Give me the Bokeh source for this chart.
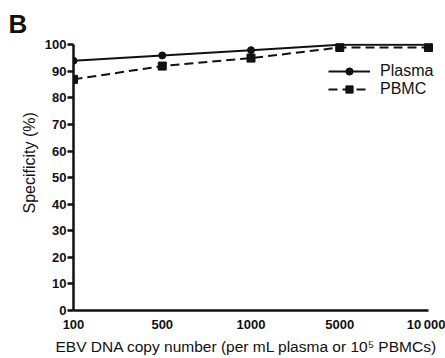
from bokeh.plotting import figure
from bokeh.embed import file_html
from bokeh.resources import INLINE
from bokeh.models import FixedTicker, Legend, LegendItem, Title

categories = ["100", "500", "1000", "5000", "10\u2009000"]
plasma = [94, 96, 98, 100, 100]
pbmc = [87, 92, 95, 99, 99]
y_ticks = [0, 10, 20, 30, 40, 50, 60, 70, 80, 90, 100]

xs = list(range(len(categories)))
FONT = "Liberation Sans"
COL = "#111111"

p = figure(width=445, height=358, output_backend="svg", toolbar_location=None,
           x_range=(0, 4.135), y_range=(0, 100.5),
           min_border_left=73, min_border_right=5, min_border_top=43, min_border_bottom=48)
p.outline_line_color = None
p.xgrid.visible = False
p.ygrid.visible = False

p.title.text = "B"
p.title.text_font = FONT
p.title.text_font_size = "26px"
p.title.text_font_style = "bold"
p.title.text_color = COL
p.title.offset = -65
p.title.standoff = 9

r1 = p.line(xs, plasma, line_color=COL, line_width=2)
r2 = p.scatter(xs, plasma, marker="circle", size=7, color=COL)
r3 = p.line(xs, pbmc, line_color=COL, line_width=2, line_dash="9 5")
r4 = p.scatter(xs, pbmc, marker="square", size=8, color=COL)

legend = Legend(items=[LegendItem(label="Plasma", renderers=[r1, r2]),
                       LegendItem(label="PBMC", renderers=[r3, r4])])
legend.background_fill_alpha = 0
legend.border_line_color = None
legend.label_text_font = FONT
legend.label_text_font_size = "16px"
legend.label_text_color = COL
legend.glyph_width = 42
legend.glyph_height = 18
legend.label_height = 18
legend.spacing = 0
legend.label_standoff = 10
legend.margin = 0
legend.padding = 0
legend.location = (255, 212)
p.add_layout(legend)

p.xaxis.ticker = FixedTicker(ticks=xs)
p.xaxis.major_label_overrides = {i: c for i, c in zip(xs, categories)}
p.xaxis.major_tick_line_color = None
p.xaxis.minor_tick_line_color = None
p.xaxis.bounds = (0, 4)
p.xaxis.axis_line_width = 2.5
p.xaxis.axis_line_color = COL
p.xaxis.major_label_text_font = FONT
p.xaxis.major_label_text_font_style = "bold"
p.xaxis.major_label_text_font_size = "13px"
p.xaxis.major_label_text_color = COL
p.xaxis.major_label_standoff = 0

xlab = Title(text="EBV DNA copy number (per mL plasma or 10\u2075 PBMCs)",
             align="left", offset=-18, standoff=2,
             text_font=FONT, text_font_style="normal", text_font_size="15.5px",
             text_color=COL)
p.add_layout(xlab, "below")

p.yaxis.ticker = FixedTicker(ticks=y_ticks)
p.yaxis.bounds = (0, 100)
p.yaxis.minor_tick_line_color = None
p.yaxis.major_tick_out = 6
p.yaxis.major_tick_in = 0
p.yaxis.major_tick_line_width = 2.5
p.yaxis.major_tick_line_color = COL
p.yaxis.axis_line_width = 2.5
p.yaxis.axis_line_color = COL
p.yaxis.major_label_text_font = FONT
p.yaxis.major_label_text_font_style = "bold"
p.yaxis.major_label_text_font_size = "13px"
p.yaxis.major_label_text_color = COL
p.yaxis.major_label_standoff = 1

ylab = Title(text="Specificity (%)", align="left", offset=97, standoff=8,
             text_font=FONT, text_font_style="normal", text_font_size="16px",
             text_color=COL)
p.add_layout(ylab, "left")

open("out.html", "w").write(file_html(p, INLINE))
